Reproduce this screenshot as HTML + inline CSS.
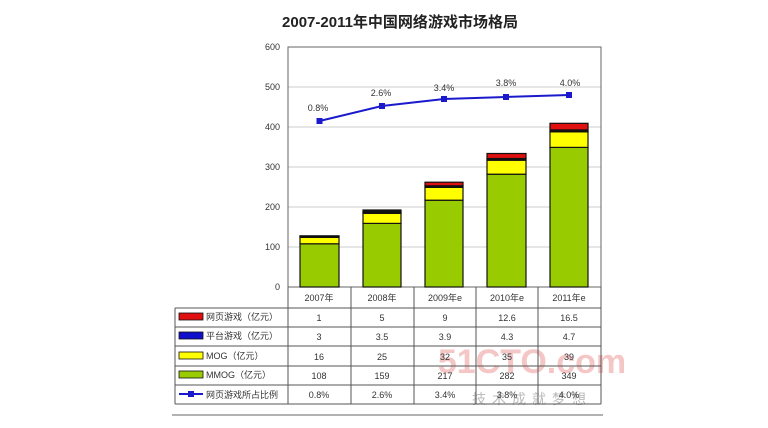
<!DOCTYPE html>
<html><head><meta charset="utf-8"><style>
body{margin:0;background:#fff;}
svg{display:block;font-family:"Liberation Sans","Noto Sans CJK SC",sans-serif;}
</style></head><body>
<svg width="768" height="428" viewBox="0 0 768 428" xmlns="http://www.w3.org/2000/svg">
<rect width="768" height="428" fill="#fff"/>
<text x="400" y="27" text-anchor="middle" font-size="15" font-weight="bold" fill="#222">2007-2011年中国网络游戏市场格局</text>
<!-- grid -->
<g stroke="#ccc" stroke-width="1">
<line x1="288" y1="87" x2="601" y2="87"/><line x1="288" y1="127" x2="601" y2="127"/>
<line x1="288" y1="167" x2="601" y2="167"/><line x1="288" y1="207" x2="601" y2="207"/>
<line x1="288" y1="247" x2="601" y2="247"/>
</g>
<rect x="288" y="47" width="313" height="240" fill="none" stroke="#666" stroke-width="1"/>
<g font-size="9" fill="#333" text-anchor="end">
<text x="280" y="50">600</text><text x="280" y="90">500</text><text x="280" y="130">400</text>
<text x="280" y="170">300</text><text x="280" y="210">200</text><text x="280" y="250">100</text><text x="280" y="290">0</text>
</g>
<!-- bars -->
<g stroke="#111" stroke-width="1.2">
<!-- 2007: 108,16,3,1 -->
<rect x="300" y="243.8" width="39" height="43.2" fill="#99cc00"/>
<rect x="300" y="237.4" width="39" height="6.4" fill="#ffff00"/>
<rect x="300" y="236.2" width="39" height="1.2" fill="#111"/>
<rect x="300" y="235.8" width="39" height="0.4" fill="#e01010"/>
<!-- 2008: 159,25,3.5,5 -->
<rect x="363" y="223.4" width="38" height="63.6" fill="#99cc00"/>
<rect x="363" y="213.4" width="38" height="10" fill="#ffff00"/>
<rect x="363" y="212" width="38" height="1.4" fill="#111"/>
<rect x="363" y="210" width="38" height="2" fill="#111"/>
<!-- 2009: 217,32,3.9,9 -->
<rect x="425" y="200.2" width="38" height="86.8" fill="#99cc00"/>
<rect x="425" y="187.4" width="38" height="12.8" fill="#ffff00"/>
<rect x="425" y="185.8" width="38" height="1.6" fill="#111"/>
<rect x="425" y="182.2" width="38" height="3.6" fill="#e01010"/>
<!-- 2010: 282,35,4.3,12.6 -->
<rect x="487" y="174.2" width="39" height="112.8" fill="#99cc00"/>
<rect x="487" y="160.2" width="39" height="14" fill="#ffff00"/>
<rect x="487" y="158.5" width="39" height="1.7" fill="#111"/>
<rect x="487" y="153.5" width="39" height="5" fill="#e01010"/>
<!-- 2011: 349,39,4.7,16.5 -->
<rect x="550" y="147.4" width="38" height="139.6" fill="#99cc00"/>
<rect x="550" y="131.8" width="38" height="15.6" fill="#ffff00"/>
<rect x="550" y="129.9" width="38" height="1.9" fill="#111"/>
<rect x="550" y="123.3" width="38" height="6.6" fill="#e01010"/>
</g>
<!-- line -->
<polyline points="319.5,121 382,106 444,99 506,97 569,95" fill="none" stroke="#1a1acc" stroke-width="2"/>
<g fill="#1a1acc">
<rect x="316.5" y="118" width="6" height="6"/><rect x="379" y="103" width="6" height="6"/>
<rect x="441" y="96" width="6" height="6"/><rect x="503" y="94" width="6" height="6"/><rect x="566" y="92" width="6" height="6"/>
</g>
<g font-size="9" fill="#333" text-anchor="middle">
<text x="318" y="111">0.8%</text><text x="381" y="96">2.6%</text><text x="444" y="91">3.4%</text>
<text x="506" y="86">3.8%</text><text x="570" y="86">4.0%</text>
</g>
<!-- watermark -->
<text x="532" y="373" text-anchor="middle" font-size="34" font-weight="bold" fill="#f2b8b8" opacity="0.8">51CTO.com</text>
<text x="532" y="404" text-anchor="middle" font-size="14" fill="#bbb" letter-spacing="6">技术成就梦想</text>
<!-- table -->
<g stroke="#555" stroke-width="1" fill="none">
<line x1="288" y1="287" x2="288" y2="404"/>
<line x1="351" y1="287" x2="351" y2="404"/><line x1="414" y1="287" x2="414" y2="404"/>
<line x1="476" y1="287" x2="476" y2="404"/><line x1="538" y1="287" x2="538" y2="404"/>
<line x1="601" y1="287" x2="601" y2="404"/>
<line x1="288" y1="308" x2="601" y2="308"/>
<line x1="175" y1="308" x2="175" y2="404"/><line x1="175" y1="308" x2="288" y2="308"/>
<line x1="175" y1="327" x2="601" y2="327"/><line x1="175" y1="346" x2="601" y2="346"/>
<line x1="175" y1="366" x2="601" y2="366"/><line x1="175" y1="385" x2="601" y2="385"/>
<line x1="175" y1="404" x2="601" y2="404"/>
</g>
<line x1="172" y1="415" x2="603" y2="415" stroke="#999" stroke-width="1.5"/>
<g font-size="9" fill="#333" text-anchor="middle">
<text x="319" y="301">2007年</text><text x="382" y="301">2008年</text><text x="445" y="301">2009年e</text><text x="507" y="301">2010年e</text><text x="569" y="301">2011年e</text>
<text x="319" y="321">1</text><text x="382" y="321">5</text><text x="445" y="321">9</text><text x="507" y="321">12.6</text><text x="569" y="321">16.5</text>
<text x="319" y="340">3</text><text x="382" y="340">3.5</text><text x="445" y="340">3.9</text><text x="507" y="340">4.3</text><text x="569" y="340">4.7</text>
<text x="319" y="360">16</text><text x="382" y="360">25</text><text x="445" y="360">32</text><text x="507" y="360">35</text><text x="569" y="360">39</text>
<text x="319" y="379">108</text><text x="382" y="379">159</text><text x="445" y="379">217</text><text x="507" y="379">282</text><text x="569" y="379">349</text>
<text x="319" y="398">0.8%</text><text x="382" y="398">2.6%</text><text x="445" y="398">3.4%</text><text x="507" y="398">3.8%</text><text x="569" y="398">4.0%</text>
</g>
<g stroke="#111" stroke-width="0.8">
<rect x="179" y="313" width="24" height="7" fill="#e01010"/>
<rect x="179" y="332" width="24" height="7" fill="#1010cc"/>
<rect x="179" y="352" width="24" height="7" fill="#ffff00"/>
<rect x="179" y="371" width="24" height="7" fill="#99cc00"/>
</g>
<line x1="179" y1="394" x2="203" y2="394" stroke="#1a1acc" stroke-width="2"/>
<rect x="188" y="391" width="6" height="6" fill="#1a1acc"/>
<g font-size="9" fill="#333">
<text x="206" y="320">网页游戏（亿元）</text>
<text x="206" y="339">平台游戏（亿元）</text>
<text x="206" y="359">MOG（亿元）</text>
<text x="206" y="378">MMOG（亿元）</text>
<text x="206" y="398">网页游戏所占比例</text>
</g>
</svg>
</body></html>
